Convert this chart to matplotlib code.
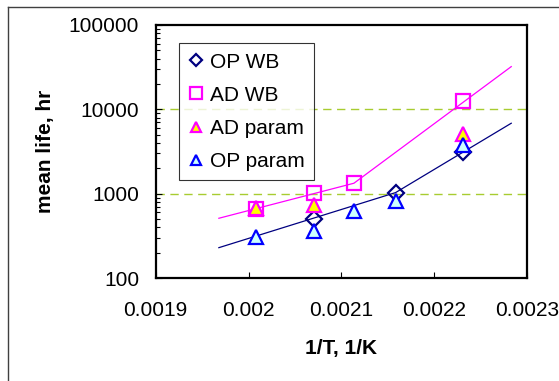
import matplotlib
matplotlib.use("Agg")
import matplotlib.pyplot as plt
from matplotlib.lines import Line2D

plt.rcParams["font.family"] = ["Liberation Sans", "DejaVu Sans"]

# data
op_wb_x = [0.0020705, 0.0021584, 0.0022315]
op_wb_y = [500, 1030, 3100]

ad_wb_x = [0.0020078, 0.0020705, 0.0021135, 0.0022315]
ad_wb_y = [655, 1010, 1330, 12700]

ad_param_x = [0.0020078, 0.0020705, 0.0022315]
ad_param_y = [675, 735, 5100]

op_param_x = [0.0020078, 0.0020705, 0.0021135, 0.0021584, 0.0022315]
op_param_y = [310, 365, 625, 810, 3750]

# trend lines (piecewise)
op_fit_x = [0.001968, 0.0021584, 0.002283]
op_fit_y = [229, 1030, 6840]
ad_fit_x = [0.001968, 0.0021135, 0.002283]
ad_fit_y = [511, 1330, 32100]

xticks = [0.0019, 0.002, 0.0021, 0.0022, 0.0023]
xtick_labels = ["0.0019", "0.002", "0.0021", "0.0022", "0.0023"]
yticks = [100, 1000, 10000, 100000]
ytick_labels = ["100", "1000", "10000", "100000"]

fig = plt.figure(figsize=(5.59, 3.81), dpi=100)
ax = fig.add_axes([0.2786, 0.2703, 0.6642, 0.6641])

# outer chart frame (cropped on right and bottom)
fig.add_artist(Line2D([8/559, 8/559], [1 - 7/381, 0], color="#404040", lw=1))
fig.add_artist(Line2D([8/559, 1], [1 - 7/381, 1 - 7/381], color="#404040", lw=1))

for g in [1000, 10000]:
    ax.axhline(g, color="#a8cc30", lw=1.0, dashes=(6, 4), zorder=1)

ax.plot(op_fit_x, op_fit_y, color="#000080", lw=0.9, zorder=2)
ax.plot(ad_fit_x, ad_fit_y, color="#ff00ff", lw=0.9, zorder=2)

ax.plot(op_wb_x, op_wb_y, ls="none", marker="D", ms=8, mfc="none",
        mec="#000080", mew=1.6, label="OP WB", zorder=3)
ax.plot(ad_wb_x, ad_wb_y, ls="none", marker="s", ms=10.5, mfc="none",
        mec="#ff00ff", mew=1.6, label="AD WB", zorder=3)
ax.plot(ad_param_x, ad_param_y, ls="none", marker="^", ms=9.5, mfc="#ffff00",
        mec="#ff00ff", mew=1.6, label="AD param", zorder=4)
ax.plot(op_param_x, op_param_y, ls="none", marker="^", ms=9.5, mfc="#ccffff",
        mec="#0000ff", mew=1.6, label="OP param", zorder=5)

ax.set_yscale("log")
ax.set_xlim(0.0019, 0.0023)
ax.set_ylim(100, 100000)
ax.set_xticks(xticks)
ax.set_xticklabels(xtick_labels)
ax.set_yticks(yticks)
ax.set_yticklabels(ytick_labels)
ax.minorticks_on()
ax.xaxis.set_minor_locator(matplotlib.ticker.NullLocator())
ax.yaxis.set_minor_formatter(matplotlib.ticker.NullFormatter())

ax.tick_params(axis="x", which="major", direction="in", length=4, width=0.8,
               labelsize=15, pad=16.5, top=False)
ax.tick_params(axis="y", which="major", direction="in", length=4, width=0.8,
               labelsize=15, pad=12, right=False)
ax.tick_params(axis="y", which="minor", direction="in", length=3, width=0.8,
               right=False)
for s in ax.spines.values():
    s.set_linewidth(1.6)

ax.set_xlabel("1/T, 1/K", fontsize=15, fontweight="bold")
ax.set_ylabel("mean life, hr", fontsize=15, fontweight="bold")
ax.xaxis.set_label_coords(0.499, -0.241)
ax.yaxis.set_label_coords(-0.271, 0.5)

leg = ax.legend(loc="upper left", bbox_to_anchor=(0.0636, 0.928), borderaxespad=0,
                fontsize=15, frameon=True, fancybox=False, edgecolor="black",
                handlelength=0.7, handletextpad=0.3, labelspacing=0.68,
                borderpad=0.45, markerscale=0.8)
leg.get_frame().set_linewidth(0.8)

fig.savefig("out.png", dpi=100)
